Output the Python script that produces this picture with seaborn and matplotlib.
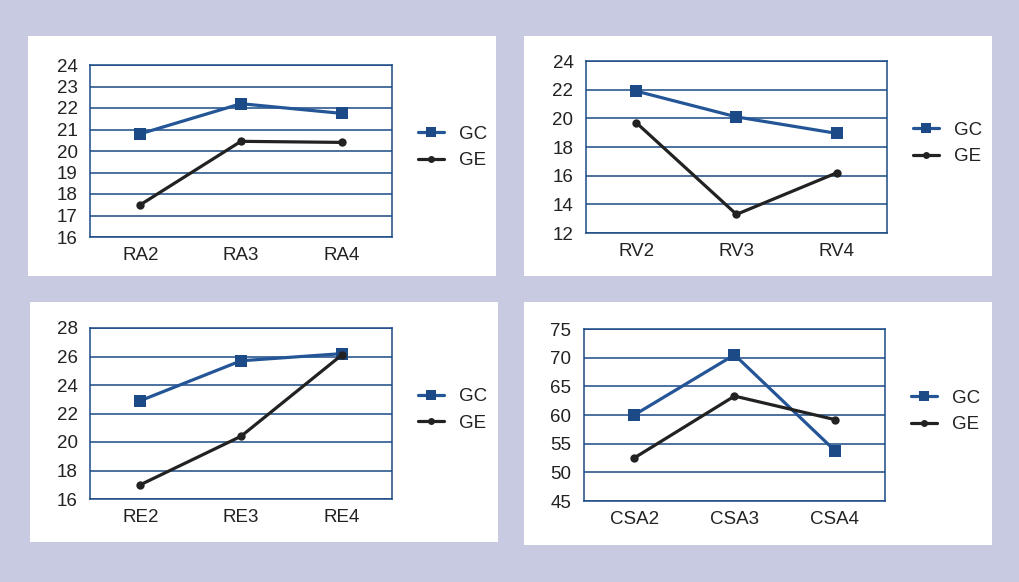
import pandas as pd
import matplotlib.pyplot as plt
import seaborn as sns

# data
groups = ['GC', 'GE']

ra_labels = ['RA2', 'RA3', 'RA4']
ra_gc = [20.8, 22.2, 21.75]
ra_ge = [17.5, 20.45, 20.4]

rv_labels = ['RV2', 'RV3', 'RV4']
rv_gc = [21.9, 20.1, 18.95]
rv_ge = [19.7, 13.3, 16.2]

re_labels = ['RE2', 'RE3', 'RE4']
re_gc = [22.9, 25.7, 26.2]
re_ge = [17.0, 20.4, 26.1]

csa_labels = ['CSA2', 'CSA3', 'CSA4']
csa_gc = [60.0, 70.5, 53.8]
csa_ge = [52.5, 63.3, 59.2]

sns.set_style('white')
plt.rcParams['font.family'] = ['Liberation Sans', 'DejaVu Sans']

bg = '#c8cae1'
navy = '#1b4a86'
blue = '#245596'
black = '#222222'

fig = plt.figure(figsize=(10.2, 5.82), dpi=100)
fig.patch.set_facecolor(bg)
W, H = 1020, 582


def frac(x0, y0, x1, y1):
    return [x0 / W, 1 - y1 / H, (x1 - x0) / W, (y1 - y0) / H]


# white cards behind the axes
for x0, y0, x1, y1 in [(28, 36, 496, 276), (524, 36, 992, 276),
                       (30, 302, 498, 542), (524, 302, 992, 545)]:
    fig.patches.append(plt.Rectangle((x0 / W, 1 - y1 / H), (x1 - x0) / W, (y1 - y0) / H,
                                     transform=fig.transFigure, facecolor='white',
                                     edgecolor='none', zorder=-10))

panels = [
    (ra_labels, ra_gc, ra_ge, (16, 24), 1, (90, 65, 392, 237)),
    (rv_labels, rv_gc, rv_ge, (12, 24), 2, (586, 61, 887, 233)),
    (re_labels, re_gc, re_ge, (16, 28), 2, (90, 328, 392, 499)),
    (csa_labels, csa_gc, csa_ge, (45, 75), 5, (584, 329, 885, 501)),
]


def style_lines(lines, sq, dot):
    for line in lines:
        if line.get_marker() == 's':
            line.set_markerfacecolor(navy)
            line.set_markersize(sq)
        elif line.get_marker() == 'o':
            line.set_markersize(dot)


for labels, gc, ge, (lo, hi), step, box in panels:
    ax = fig.add_axes(frac(*box))
    ax.set_facecolor('white')
    df = pd.DataFrame({
        'x': list(range(len(labels))) * 2,
        'value': gc + ge,
        'group': ['GC'] * len(gc) + ['GE'] * len(ge),
    })
    sns.lineplot(data=df, x='x', y='value', hue='group', style='group',
                 markers={'GC': 's', 'GE': 'o'}, dashes=False,
                 palette={'GC': blue, 'GE': black}, linewidth=2.3,
                 markersize=7, markeredgewidth=0, ax=ax)
    style_lines(ax.lines, 8, 6)
    ax.set_xlim(-0.5, len(labels) - 0.5)
    ax.set_ylim(lo, hi)
    ax.set_yticks(range(lo, hi + 1, step))
    ax.yaxis.grid(True, color=navy, linewidth=1.1)
    ax.set_axisbelow(True)
    ax.set_xticks(range(len(labels)))
    ax.set_xticklabels(labels)
    ax.set_xticks([0.5, 1.5], minor=True)
    ax.tick_params(axis='x', which='major', length=0, pad=7, labelsize=13.5, colors='#222222')
    ax.tick_params(axis='x', which='minor', length=5, width=1, color=navy, direction='out')
    ax.tick_params(axis='y', length=0, pad=9, labelsize=13.5, colors='#222222')
    for s in ax.spines.values():
        s.set_color(navy)
        s.set_linewidth(1.1)
    ax.set_xlabel('')
    ax.set_ylabel('')
    leg = ax.legend(title=None, frameon=False, loc='center left',
                    bbox_to_anchor=(1.03, 0.52), fontsize=13.5,
                    handlelength=1.4, handletextpad=0.8, labelspacing=0.5)
    style_lines(leg.get_lines(), 7, 5)
    for t in leg.get_texts():
        t.set_color('#222222')

fig.savefig('out.png', dpi=100, facecolor=bg)
